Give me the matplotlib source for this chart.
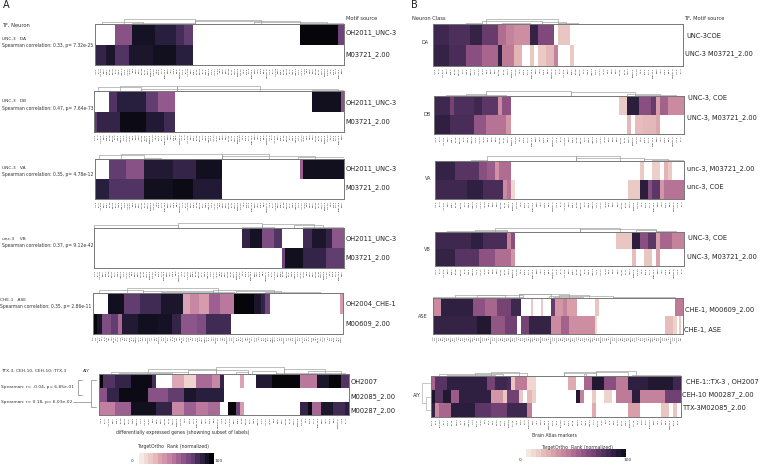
import numpy as np
import matplotlib
matplotlib.use("Agg")
import matplotlib.pyplot as plt
import seaborn as sns
from matplotlib.colors import ListedColormap

W, H = 761, 465
N = None

# Heatmap rows: (values, run lengths); None = no motif match (white)
A1_top = ([N,62,93,88,80,72,N,97,70], [7,6,8,7,3,3,37,13,2])
A1_bot = ([85,92,78,92,94,88,N], [4,3,5,8,8,6,52])
A2_top = ([N,78,88,72,58,N,94,60], [5,3,10,4,6,47,10,1])
A2_bot = ([72,85,96,90,82,N], [1,8,9,6,4,58])
A3_top = ([N,72,62,90,85,95,N,55,95], [5,6,6,10,8,9,27,1,14])
A3_bot = ([88,78,95,96,90,N], [5,12,10,7,10,42])
A4_top = ([N,85,93,65,78,N,82,92,85,60], [51,3,4,4,3,7,3,5,2,4])
A4_bot = ([N,70,95,85,72], [65,1,6,8,6])
A5_top = ([N,95,72,82,92,28,38,30,55,45,98,92,85,68,N,30], [7,7,7,9,10,3,4,4,5,6,9,3,2,2,31,1])
A5_bot = ([97,92,65,72,50,90,95,93,85,60,65,82,N], [2,2,4,3,2,7,9,6,4,7,4,11,49])
A6_top = ([97,78,85,96,80,N,25,10,50,38,85,N,28,N,90,98,45,92,97,78],
          [1,3,4,5,1,4,3,3,4,2,1,4,1,3,4,7,4,3,3,2])
A6_mid = ([62,85,96,62,72,92,88,N], [2,3,7,5,4,3,7,31])
A6_bot = ([42,55,95,85,38,55,45,50,N,98,70,30,N,85,96,52,92,82,88],
          [4,4,6,4,3,3,3,3,2,2,1,1,14,2,1,2,3,3,1])

B1_top = ([85,80,88,72,48,38,34,88,65,N,14,N], [4,5,3,4,2,2,4,2,4,1,3,28])
B1_bot = ([88,82,62,50,90,42,20,N,14,N,12,18,38,N,12,N], [4,4,4,4,1,3,2,2,1,1,2,2,1,3,1,27])
B2_top = ([85,68,80,85,75,35,60,N,12,92,62,72,28,52,35], [4,1,5,2,4,1,2,27,2,3,3,1,1,2,4])
B2_bot = ([90,82,58,45,30,N,18,N,16,18,24,N], [4,6,3,5,1,29,1,1,2,3,1,6])
B3_top = ([88,78,62,55,32,48,N,12,N,10,N,20,12,N], [5,6,2,2,1,3,32,1,2,2,1,1,1,3])
B3_bot = ([85,90,82,35,45,7,N,12,92,62,75,30,45], [8,4,5,1,1,1,28,3,2,1,2,1,5])
B4_top = ([85,90,82,38,62,N,13,92,62,75,28,50,38], [9,3,6,1,1,25,4,2,2,2,1,3,3])
B4_bot = ([88,78,60,48,32,N,16,N,14,N,25,N], [5,6,4,4,1,29,1,2,2,1,1,6])
B5_top = ([35,90,60,50,68,85,N,12,N,12,N,72,30,38,28,N,14,N,42],
          [4,16,6,6,7,5,5,1,4,1,4,2,4,2,5,9,2,38,4])
B5_bot = ([88,95,58,70,N,68,88,35,52,33,7,N,16,8,N,12,N],
          [22,7,7,6,2,4,11,5,4,13,1,34,4,2,1,1,1])
B6_top = ([50,78,90,68,85,82,14,42,7,N,22,N,50,95,62,42,90,95,85],
          [1,3,10,2,3,1,1,3,2,8,2,2,2,3,3,3,5,6,2])
B6_mid = ([96,78,95,55,90,30,14,70,14,N,18,10,N,95,38,N,12,N,8,N,42,92,38,70],
          [1,2,2,2,8,3,1,3,1,1,1,1,10,1,1,2,1,2,2,1,4,2,6,4])
B6_bot = ([88,35,50,92,75,70,85,40,N,22,N,28,N,14,N,14,N],
          [1,1,3,6,4,4,5,1,15,1,8,3,5,2,1,1,1])

GENES = ['unc-3','acr-2','unc-129','del-1','vab-7','flp-18','nlp-12','ser-2','twk-2','mig-13','cho-1',
         'unc-17','ins-22','glr-4','egl-5','dbl-1','sra-36','lin-11','cwn-1','F39B2.8','ceh-10','ttx-3',
         'nca-2','kcc-2','T28F12.2','pdf-2','ida-1','syg-2','zig-3','R10E11.6']

LEFT_TEXT = [
    ("TF, Neuron", 2, 25.7, 3.7), ("UNC-3   DA", 2, 38.7, 3.2), ("Spearman correlation: 0.33, p= 7.32e-25", 2, 45, 3.25),
    ("UNC-3   DB", 2, 101, 3.2), ("Spearman correlation: 0.47, p= 7.64e-73", 2, 108, 3.25),
    ("UNC-3   VA", 2, 167.7, 3.2), ("Spearman correlation: 0.35, p= 4.78e-12", 2, 174, 3.25),
    ("unc-3    VB", 2, 239, 3.2), ("Spearman correlation: 0.37, p= 9.12e-42", 2, 245, 3.25),
    ("CHE-1   ASE", 0, 300, 3.2), ("Spearman correlation: 0.35, p= 2.86e-11", 0, 306, 3.25),
    ("TTX-3, CEH-10, CEH-10::TTX-3", 1, 370.7, 3.2), ("AIY", 83, 370.7, 3.2),
    ("Spearman: r= -0.04, p= 6.85e-01", 1, 387, 3.2), ("Spearman: r= 0.18, p= 6.03e-02", 1, 401.7, 3.2),
    ("Motif source", 345.7, 18, 3.7), ("Neuron Class", 411.7, 18, 3.7), ("TF, Motif source", 684, 18, 3.7),
]
RIGHT_TEXT = [
    ("OH2011_UNC-3", 345.7, 32.7, 4.8), ("M03721_2.00", 345.7, 55, 4.8),
    ("OH2011_UNC-3", 346, 103, 4.8), ("M03721_2.00", 345, 121.3, 4.8),
    ("OH2011_UNC-3", 346, 169, 4.8), ("M03721_2.00", 345, 187.7, 4.8),
    ("OH2011_UNC-3", 346, 239, 4.8), ("M03721_2.00", 345, 257.7, 4.8),
    ("OH2004_CHE-1", 346, 304, 4.8), ("M00609_2.00", 345, 323.3, 4.8),
    ("OH2007", 350.7, 381.7, 4.8), ("M02085_2.00", 350.7, 396.7, 4.8), ("M00287_2.00", 350.7, 410.7, 4.8),
    ("UNC-3COE", 686, 36, 4.8), ("UNC-3 M03721_2.00", 685, 54, 4.8),
    ("UNC-3, COE", 688, 98.3, 4.8), ("UNC-3, M03721_2.00", 687, 117.7, 4.8),
    ("unc-3, M03721_2.00", 687, 168.3, 4.8), ("unc-3, COE", 687, 187.3, 4.8),
    ("UNC-3, COE", 687.6, 238, 4.8), ("UNC-3, M03721_2.00", 687, 257, 4.8),
    ("CHE-1, M00609_2.00", 685, 310, 4.8), ("CHE-1, ASE", 684, 330, 4.8),
    ("CHE-1::TX-3 , OH2007", 685.7, 382, 4.8), ("CEH-10 M00287_2.00", 681.7, 395, 4.8), ("TTX-3M02085_2.00", 683, 407.7, 4.8),
]
CLASS_TEXT = [("DA", 429, 42), ("DB", 431, 114.7), ("VA", 431, 178), ("VB", 431, 249), ("ASE", 428, 316), ("AIY", 421, 395)]

# Panels: box (x0, x1, y0, y1 in px), rows, tick font size, dendrogram links (left col, right col, height px), palette key
PANELS = [
    ((94.5, 344, 24.5, 65.5), [A1_top, A1_bot], 1.6,
     [(2.5,16.7,2.7),(10,34.5,5),(34.5,57.5,4.5),(34.5,71,3),(13,34.5,1.5),(71,86,1),(55,80,2)], 'A'),
    ((94, 344, 91, 132), [A2_top, A2_bot], 1.6,
     [(1.5,16,3.5),(9,28.5,5),(16,28.5,2),(28.5,57,4.5),(28.5,84,2),(75,86,1)], 'A'),
    ((94.5, 344, 158.7, 199.3), [A3_top, A3_bot], 1.6,
     [(1.5,17,3.5),(9,44,4.7),(17,23,1),(44,60,5),(44,76,3),(70,86,1.5)], 'A'),
    ((93.5, 343.5, 228, 268.3), [A4_top, A4_bot], 1.6,
     [(0,29,3),(29,58,5),(58,76,4),(69,79,3),(51,62,1),(72,86,1)], 'A'),
    ((92.5, 342.7, 293.3, 334), [A5_top, A5_bot], 1.2,
     [(3,22,3.5),(15,55,5),(22,53,2),(53,80,3),(63,83,2),(76,100,1.5),(30,62,1)], 'A'),
    ((99.3, 348.7, 374, 415.3), [A6_top, A6_mid, A6_bot], 1.6,
     [(3,22,2),(12,29,5),(22,37,4),(29,46,7),(38,44,3),(46,56,5),(52,60,3),(34,37,2),(5,18,1),(44,61,1)], 'A'),
    ((433.3, 683.3, 24.3, 65.7), [B1_top, B1_bot], 1.6,
     [(12,27,3),(13,31,5),(27,33,2),(31,36,1),(3,30,0.6),(8,12,1),(17,24,1)], 'B'),
    ((434, 683.7, 96, 133.7), [B2_top, B2_bot], 1.6,
     [(13,34,5),(34,50,4),(3,18,0.6),(8,13,1.5),(48,56,2),(50,60,1)], 'B'),
    ((434.7, 684.3, 161.3, 198.7), [B3_top, B3_bot], 1.6,
     [(13,35,5),(35,46,5),(35,52,3),(3,18,0.6),(9,13,1),(52,58,2),(54,62,1)], 'B'),
    ((434.7, 684.3, 232, 265.7), [B4_top, B4_bot], 1.6,
     [(15,36,4),(36,46,3.5),(36,55,2.5),(10,18,2),(3,18,0.6),(50,55,1.5),(55,60,1)], 'B'),
    ((432.7, 682.7, 298.3, 334), [B5_top, B5_bot], 1.1,
     [(0,45,1.5),(11,45,3.5),(22,36,3),(43,59,4),(43,68,4),(58,90,2.5),(63,78,3),(90,121,1.5),(5,40,0.7),(60,75,1)], 'B'),
    ((430.7, 680.7, 376, 416.7), [B6_top, B6_mid, B6_bot], 1.5,
     [(2,18,2),(11,24,3.5),(15,22,4),(33,49,4),(33,41,3),(41,51,5),(38,38.5,2),(4,16,1),(50,62,1)], 'B'),
]
CBARS = [((139, 214, 452.7, 464), 132, 219, 460.7, 173, 446, 'A', 16),
         ((526, 625, 449.3, 457.3), 520, 628, 459.5, 577, 447, 'B', 20)]

cmaps = {
    'A': ListedColormap(sns.cubehelix_palette(64, start=0, rot=0.4, light=0.92, dark=0.0, hue=0.8, gamma=0.85)),
    'B': ListedColormap(sns.cubehelix_palette(64, start=0, rot=0.4, light=0.92, dark=0.08, hue=0.8, gamma=1.0)),
}
GRID_COLOR = '#777777'

def px_axes(x0, x1, y0, y1):
    return fig.add_axes([x0 / W, 1 - y1 / H, (x1 - x0) / W, (y1 - y0) / H])

def expand(row):
    return np.repeat(np.array([np.nan if v is None else v for v in row[0]], float), row[1])

fig = plt.figure(figsize=(W / 100, H / 100), dpi=100)

for box, rows, fs, links, key in PANELS:
    ax = px_axes(*box)
    grid = np.vstack([expand(r) for r in rows])
    ncol = grid.shape[1]
    ax.pcolormesh(np.arange(ncol + 1), np.arange(len(rows) + 1), grid, cmap=cmaps[key], vmin=0, vmax=100, linewidth=0)
    ax.set_ylim(len(rows), 0)
    ax.set_xlim(0, ncol)
    ax.set_yticks([])
    ax.set_xticks(np.arange(ncol) + 0.5)
    ax.set_xticklabels([GENES[i % len(GENES)] for i in range(ncol)], rotation=90, fontsize=fs, color='#111111')
    ax.tick_params(axis='x', length=0.8, width=0.2, pad=0.5, color='#444444')
    for s in ax.spines.values():
        s.set_color(GRID_COLOR)
        s.set_linewidth(0.7)
    d = px_axes(box[0], box[1], box[2] - 8, box[2])
    d.set_xlim(0, ncol)
    d.set_ylim(0, 8)
    d.axis('off')
    for l, r, h in links:
        d.plot([l, l, r, r], [0, h, h, 0], color='#999999', lw=0.45)

overlay = fig.add_axes([0, 0, 1, 1], zorder=5)
overlay.set_xlim(0, W)
overlay.set_ylim(H, 0)
overlay.axis('off')
overlay.patch.set_alpha(0)

for (box, lx0, lx1, ly, tx, ty, key, n) in CBARS:
    cax = px_axes(*box)
    cax.imshow(np.linspace(0, 100, n)[None, :], cmap=ListedColormap(cmaps[key](np.linspace(0, 1, n))),
               aspect='auto', vmin=0, vmax=100)
    cax.axis('off')
    overlay.text(lx0, ly, '0', fontsize=3.2, color='#333333', ha='center', va='center')
    overlay.text(lx1, ly, '100', fontsize=3.2, color='#333333', ha='center', va='center')
    overlay.text(tx, ty, 'TargetOrtho  Rank (normalized)', fontsize=3.3, color='#333333', ha='center', va='center')

for t, x, y, fs in LEFT_TEXT:
    overlay.text(x, y, t, fontsize=fs, color='#333333', va='center')
for t, x, y, fs in RIGHT_TEXT:
    overlay.text(x, y, t, fontsize=fs, color='#222222', va='center')
for t, x, y in CLASS_TEXT:
    overlay.text(x, y, t, fontsize=3.6, color='#333333', ha='right', va='center')
overlay.text(3, 5.5, 'A', fontsize=7, color='#222222', va='center')
overlay.text(411, 5.5, 'B', fontsize=7, color='#222222', va='center')
overlay.text(183, 432, 'differentially expressed genes (showning subset of labels)', fontsize=3.3, color='#333333', ha='center', va='center')
overlay.text(554, 435, 'Brain Atlas markers', fontsize=3.3, color='#333333', ha='center', va='center')

# brackets linking the AIY correlations to the motif rows, and the row dendrogram in B
BR = '#777777'
overlay.plot([82, 77.5, 77.5, 82], [379.5, 379.5, 394.5, 394.5], color=BR, lw=0.45)
overlay.plot([96, 91.3, 91.3, 96], [379.5, 379.5, 407, 407], color=BR, lw=0.45)
overlay.plot([73, 91.3], [401.7, 401.7], color=BR, lw=0.45)
overlay.plot([430, 426, 426, 430], [396.7, 396.7, 410, 410], color='#aaaaaa', lw=0.45)
overlay.plot([426, 421.7, 421.7, 430], [403.3, 403.3, 382.7, 382.7], color='#aaaaaa', lw=0.45)

fig.savefig('out.png', dpi=100)
